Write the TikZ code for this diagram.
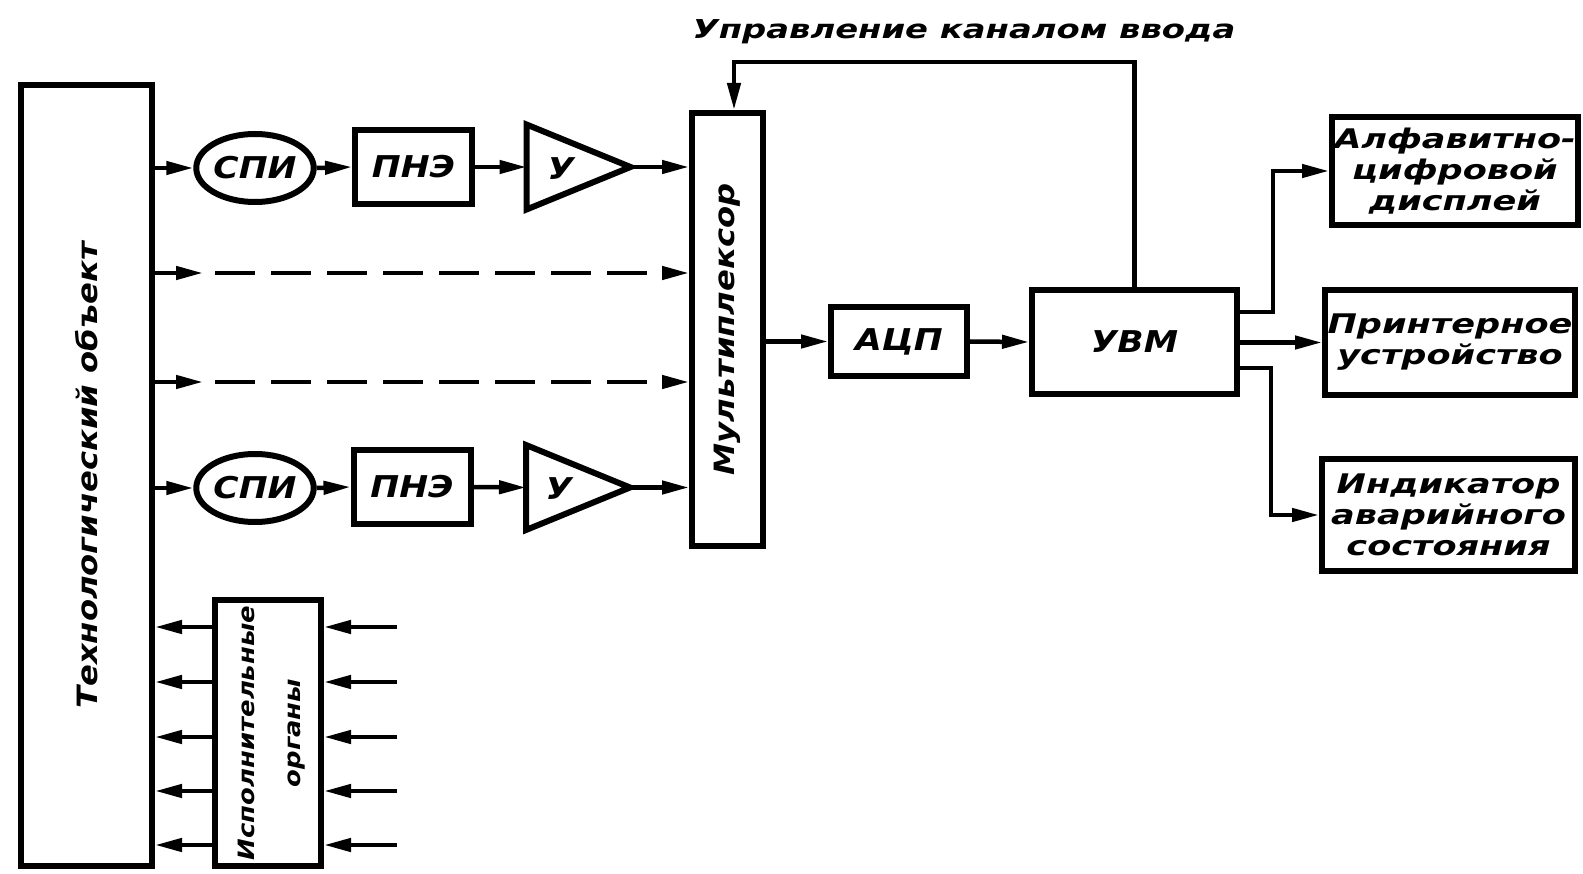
\documentclass[tikz,border=0pt]{standalone}
\usepackage{fontspec}
\usepackage{graphicx}
\setmainfont{DejaVu Sans}
\newfontfamily\gost[FakeStretch=1.15]{DejaVu Sans}
\newfontfamily\gostw[FakeStretch=1.3]{DejaVu Sans}
\usetikzlibrary{arrows.meta,shapes.geometric,calc}
\tikzset{
  blk/.style={draw, line width=6pt, inner sep=0pt, align=center,
    font=\gost\bfseries\itshape\fontsize{30}{30}\selectfont},
  wbox/.style={blk, font=\gostw\bfseries\itshape\fontsize{27}{31}\selectfont},
  rtext/.style={font=\gost\bfseries\itshape\fontsize{28}{28}\selectfont},
  conn/.style={line width=4.5pt},
  arr/.style={conn, -{Triangle[length=27pt,width=13pt]}},
  dsh/.style={arr, dash pattern=on 40pt off 16pt},
  ampbox/.style={minimum width=104pt, minimum height=85pt, inner sep=0pt, outer sep=0pt},
  ampline/.style={line width=6pt, line join=miter},
}
\begin{document}
\begin{tikzpicture}[x=1pt,y=-1pt]
\useasboundingbox[fill=white] (0,0) rectangle (1583,874);

% main blocks
\node[blk, rtext, minimum width=131pt, minimum height=781pt] (tech) at (86.5,475.5)
  {\rotatebox{90}{Технологический объект}};
\node[blk, rtext, minimum width=71pt, minimum height=433pt] (mux) at (727.5,329.5)
  {\rotatebox{90}{Мультиплексор}};
\node[blk, minimum width=106pt, minimum height=266pt] (io) at (268,733)
  {\rotatebox{90}{\fontsize{22.5}{46}\selectfont\begin{tabular}{@{}c@{}}Исполнительные\\органы\end{tabular}}};

% channel 1
\node[blk, ellipse, minimum width=108pt, minimum height=68pt] (spi1) at (255,168) {СПИ};
\node[blk, minimum width=117pt, minimum height=74pt] (pne1) at (413.5,167) {ПНЭ};
\node[ampbox] (amp1) at (578.5,167) {};
\draw[ampline] (amp1.north west) -- (amp1.east) -- (amp1.south west) -- cycle;
\node[font=\gost\bfseries\itshape\fontsize{30}{30}\selectfont] (amp1t) at (561,169) {У};

% channel 2
\node[blk, ellipse, minimum width=108pt, minimum height=68pt] (spi2) at (255,488) {СПИ};
\node[blk, minimum width=117pt, minimum height=74pt] (pne2) at (412,487) {ПНЭ};
\node[ampbox] (amp2) at (578,487.5) {};
\draw[ampline] (amp2.north west) -- (amp2.east) -- (amp2.south west) -- cycle;
\node[font=\gost\bfseries\itshape\fontsize{30}{30}\selectfont] (amp2t) at (559,489) {У};

% converter and computer
\node[blk, minimum width=136pt, minimum height=69pt] (adc) at (899,341.5) {АЦП};
\node[blk, minimum width=205pt, minimum height=104pt] (uvm) at (1134.5,342) {УВМ};

% output devices
\node[wbox, minimum width=246pt, minimum height=108pt] (alfa) at (1455,171)
  {Алфавитно-\\цифровой\\дисплей};
\node[wbox, minimum width=250pt, minimum height=105pt] (prn) at (1450,342.5)
  {Принтерное\\устройство};
\node[wbox, minimum width=253pt, minimum height=112pt] (ind) at (1448.5,515)
  {Индикатор\\аварийного\\состояния};

% label
\node[font=\gostw\bfseries\itshape\fontsize{26}{26}\selectfont] (lbl) at (964,32)
  {Управление каналом ввода};

% channel 1 connectors
\draw[arr] (tech.east |- spi1.west) -- (spi1.west);
\draw[arr] (spi1.east) -- (pne1.west);
\draw[arr] (pne1.east) -- (amp1.west);
\draw[arr] (amp1.east) -- (mux.west |- amp1.east);

% channel 2 connectors
\draw[arr] (tech.east |- spi2.west) -- (spi2.west);
\draw[arr] (spi2.east) -- (pne2.west);
\draw[arr] (pne2.east) -- (amp2.west);
\draw[arr] (amp2.east) -- (mux.west |- amp2.east);

% dashed channels
\coordinate (d1) at (203,273);
\coordinate (d2) at (203,382);
\draw[arr] (tech.east |- d1) -- (d1);
\draw[dsh] ([xshift=12pt]d1) -- (mux.west |- d1);
\draw[arr] (tech.east |- d2) -- (d2);
\draw[dsh] ([xshift=12pt]d2) -- (mux.west |- d2);

% mux -> adc -> uvm
\draw[arr] (mux.east |- adc.west) -- (adc.west);
\draw[arr] (adc.east) -- (uvm.west);

% feedback
\coordinate (fb) at (734,62);
\draw[arr] (uvm.north) |- (fb) -- (fb |- mux.north);

% outputs
\coordinate (br1) at (1273,312);
\coordinate (br3) at (1271,368);
\draw[arr] (uvm.east |- br1) -- (br1) |- (alfa.west);
\draw[arr] (uvm.east |- prn.west) -- (prn.west);
\draw[arr] (uvm.east |- br3) -- (br3) |- (ind.west);

% actuators
\foreach \y [count=\i] in {627,682,737,791,845}{
  \coordinate (in\i) at (397,\y);
  \draw[arr] (io.west |- in\i) -- (tech.east |- in\i);
  \draw[arr] (in\i) -- (io.east |- in\i);
}
\end{tikzpicture}
\end{document}
